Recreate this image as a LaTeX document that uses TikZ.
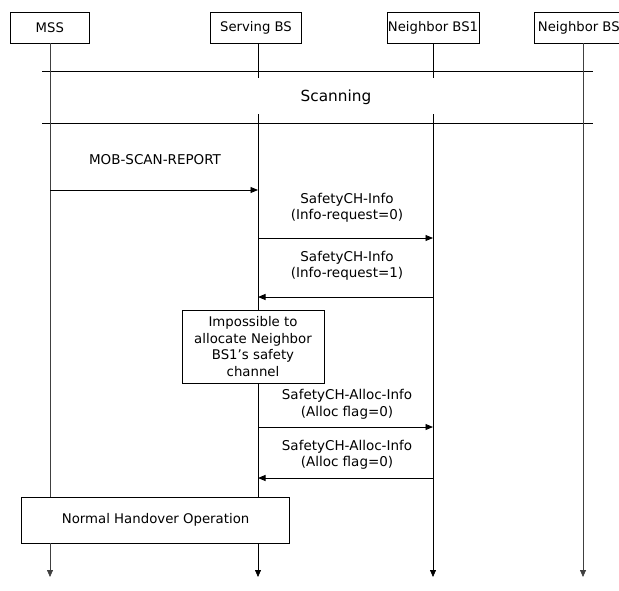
\documentclass[tikz,border=0pt]{standalone}
\usepackage{fontspec}
\setmainfont{DejaVu Sans}
\usetikzlibrary{arrows.meta}
\tikzset{
  actor/.style={draw, line width=0.75pt, fill=white, minimum height=31pt, inner sep=0pt, font=\fontsize{13.2}{16}\selectfont},
  lifeline/.style={line width=0.75pt},
  lifearrow/.style={line width=0.75pt, -{Triangle[length=7pt,width=6pt]}},
  msg/.style={line width=0.85pt, -{Triangle[length=7.5pt,width=6pt]}},
  lbl/.style={align=center, inner sep=0pt, font=\fontsize{13.5}{16.5}\selectfont},
  notebox/.style={draw, line width=0.75pt, fill=white, align=center, inner sep=0pt, font=\fontsize{13.3}{16.7}\selectfont},
  scanline/.style={line width=0.85pt}
}
\begin{document}
\begin{tikzpicture}[x=1pt,y=-1pt]
\useasboundingbox (0,0) rectangle (619,590);
\clip (0,0) rectangle (619,590);
\fill[white] (0,0) rectangle (619,590);

% actors
\node[actor, minimum width=79pt] (mss) at (49.8,27.5) {MSS};
\node[actor, minimum width=91pt] (sbs) at (256,27.5) {Serving BS};
\node[actor, minimum width=92pt] (nb1) at (433,27.5) {Neighbor BS1};
\node[actor, minimum width=98pt] (nb2) at (583,27.5) {Neighbor BS2};

% scanning band
\coordinate (scanTL) at (42,71);
\coordinate (scanTR) at (593,71);
\coordinate (scanBL) at (42,123);
\coordinate (scanBR) at (593,123);
\draw[scanline] (scanTL) -- (scanTR);
\draw[scanline] (scanBL) -- (scanBR);
\node[lbl, font=\fontsize{15.3}{18}\selectfont] (scan) at (336,97) {Scanning};

% boxes
\node[notebox, minimum width=142pt, minimum height=73pt] (imp) at (253,346.5)
  {Impossible to\\allocate Neighbor\\BS1's safety\\channel};
\node[notebox, minimum width=268pt, minimum height=46pt] (nho) at (155.6,520)
  {Normal Handover Operation};

% lifeline coordinates
\coordinate (mssA) at (50,43);
\coordinate (mssB) at (50,497);
\coordinate (mssC) at (50,543);
\coordinate (mssEnd) at (50,577);

\coordinate (sbsA) at (258,43);
\coordinate (sbsB) at (258,78);
\coordinate (sbsC) at (258,114);
\coordinate (sbsD) at (258,310);
\coordinate (sbsE) at (258,383);
\coordinate (sbsF) at (258,497);
\coordinate (sbsG) at (258,543);
\coordinate (sbsEnd) at (258,577);

\coordinate (nb1A) at (433,43);
\coordinate (nb1B) at (433,78);
\coordinate (nb1C) at (433,114);
\coordinate (nb1End) at (433,577);

\coordinate (nb2A) at (583,43);
\coordinate (nb2End) at (583,577);

% lifelines
\draw[lifeline, black!75] (mssA) -- (mssB);
\draw[lifearrow, black!75] (mssC) -- (mssEnd);

\draw[lifeline] (sbsA) -- (sbsB);
\draw[lifeline] (sbsC) -- (sbsD);
\draw[lifeline] (sbsE) -- (sbsF);
\draw[lifearrow] (sbsG) -- (sbsEnd);

\draw[lifeline] (nb1A) -- (nb1B);
\draw[lifearrow] (nb1C) -- (nb1End);

\draw[lifearrow, black!75] (nb2A) -- (nb2End);

% message anchor points
\coordinate (m1s) at (50,190);   \coordinate (m1e) at (258,190);
\coordinate (m2s) at (258,238);  \coordinate (m2e) at (433,238);
\coordinate (m3s) at (433,297);  \coordinate (m3e) at (258,297);
\coordinate (m4s) at (258,427);  \coordinate (m4e) at (433,427);
\coordinate (m5s) at (433,478);  \coordinate (m5e) at (258,478);

\draw[msg] (m1s) -- (m1e);
\draw[msg] (m2s) -- (m2e);
\draw[msg] (m3s) -- (m3e);
\draw[msg] (m4s) -- (m4e);
\draw[msg] (m5s) -- (m5e);

% labels
\node[lbl] (l1) at (155,160) {MOB-SCAN-REPORT};
\node[lbl] (l2) at (347,208) {SafetyCH-Info\\(Info-request=0)};
\node[lbl] (l3) at (347,266) {SafetyCH-Info\\(Info-request=1)};
\node[lbl] (l4) at (347,404.5) {SafetyCH-Alloc-Info\\(Alloc flag=0)};
\node[lbl] (l5) at (347,455) {SafetyCH-Alloc-Info\\(Alloc flag=0)};
\end{tikzpicture}
\end{document}
